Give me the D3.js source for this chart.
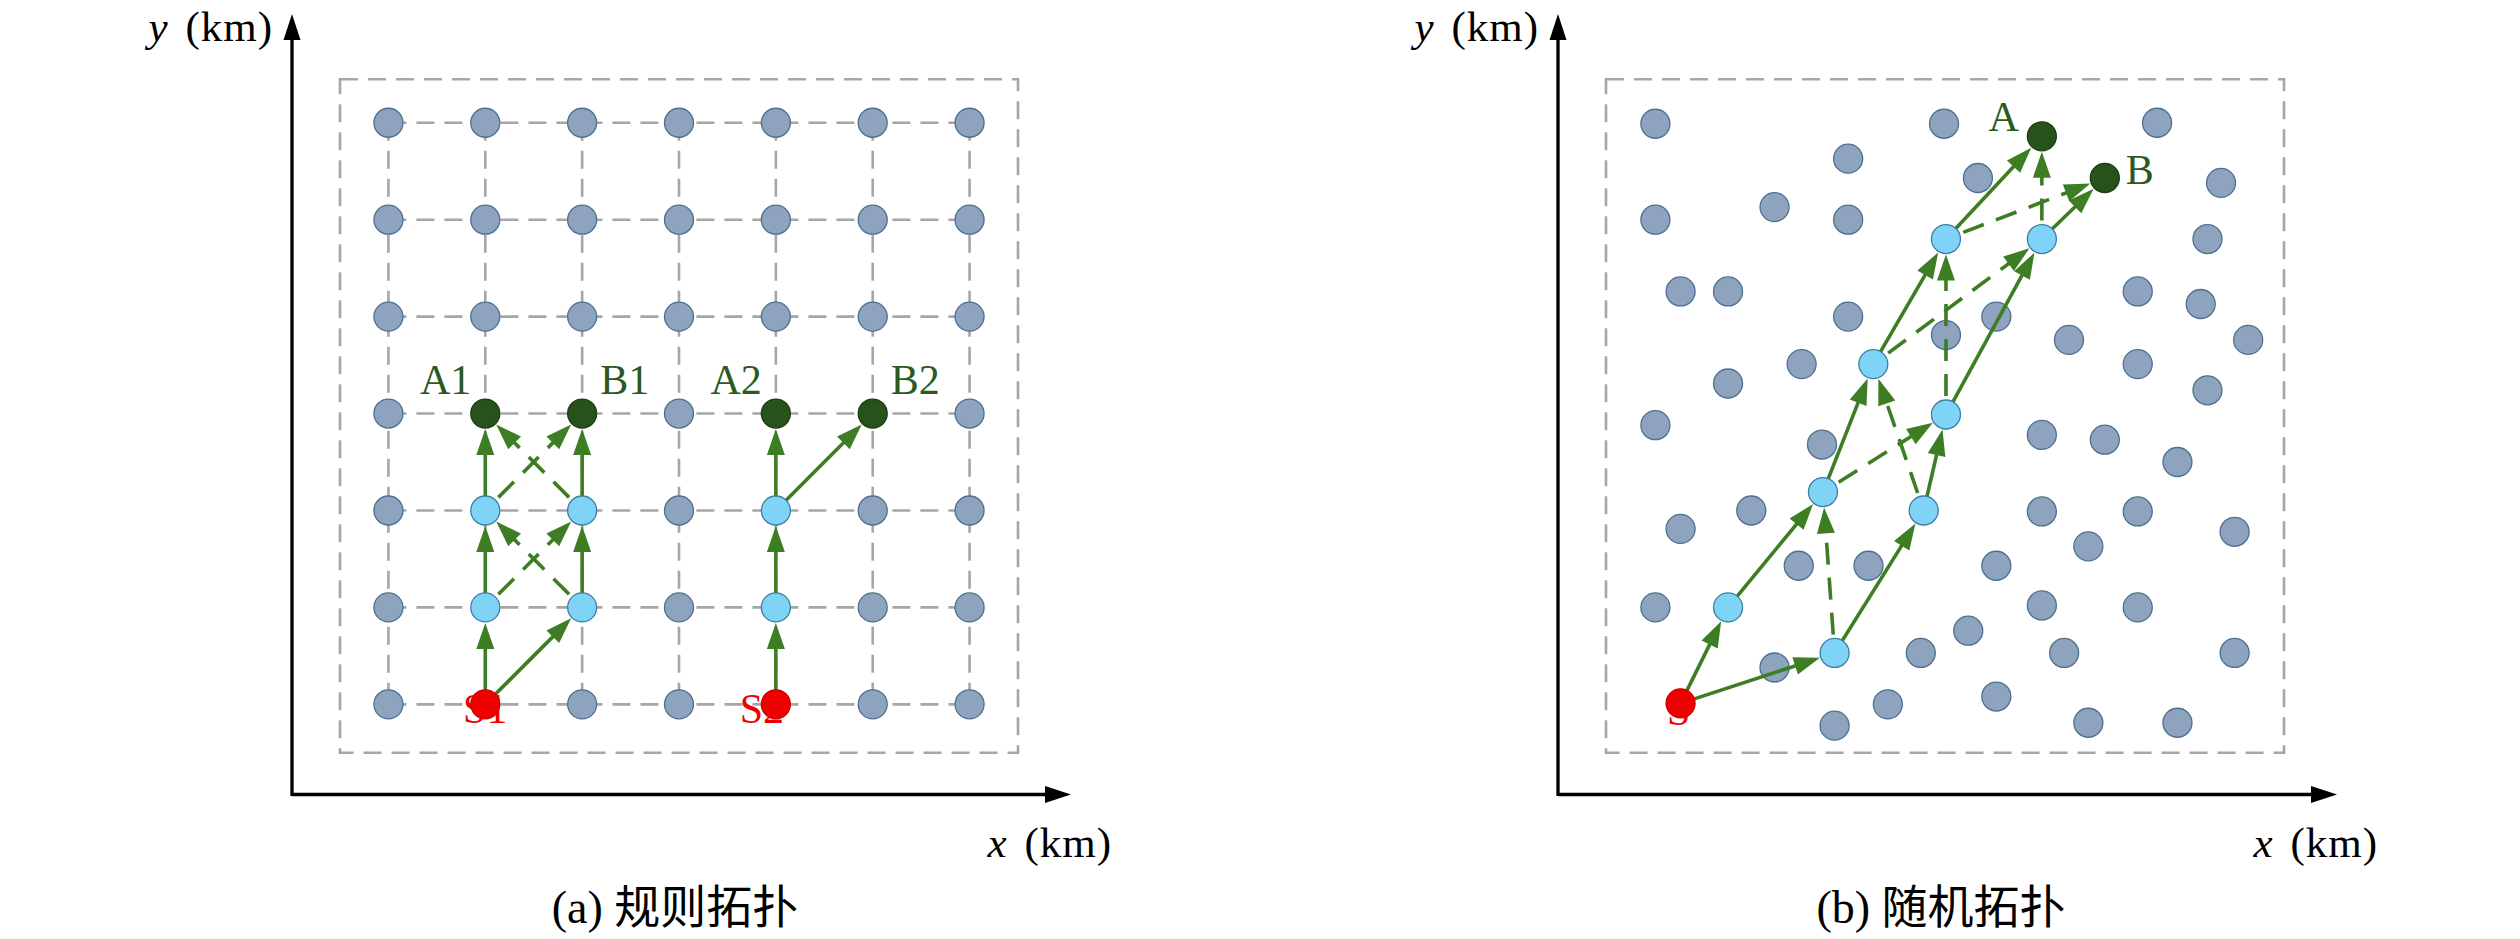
<!DOCTYPE html>
<html>
<head>
<meta charset="utf-8">
<script src="https://cdn.jsdelivr.net/npm/d3@7"></script>
<style>
  body { margin: 0; background: #fff; }
  text { font-family: "Liberation Serif", "Noto Sans CJK SC", serif; }
</style>
</head>
<body>
<script>
// ---- data (km) ----
// regular topology grid
const gridX = [0.5, 1.5, 2.5, 3.5, 4.5, 5.5, 6.5];
const gridY = [0.5, 1.5, 2.5, 3.5, 4.5, 5.5, 6.5];

// nodes on the paths of (a)
const pathNodesA = [
  {id: "S1", x: 1.5, y: 0.5, kind: "src"},
  {id: "a1", x: 1.5, y: 1.5, kind: "relay"},
  {id: "a2", x: 2.5, y: 1.5, kind: "relay"},
  {id: "a3", x: 1.5, y: 2.5, kind: "relay"},
  {id: "a4", x: 2.5, y: 2.5, kind: "relay"},
  {id: "A1", x: 1.5, y: 3.5, kind: "dst"},
  {id: "B1", x: 2.5, y: 3.5, kind: "dst"},
  {id: "S2", x: 4.5, y: 0.5, kind: "src"},
  {id: "b1", x: 4.5, y: 1.5, kind: "relay"},
  {id: "b2", x: 4.5, y: 2.5, kind: "relay"},
  {id: "A2", x: 4.5, y: 3.5, kind: "dst"},
  {id: "B2", x: 5.5, y: 3.5, kind: "dst"}
];
const linksA = [
  ["S1", "a1", "solid"], ["S1", "a2", "solid"],
  ["a1", "a3", "solid"], ["a2", "a4", "solid"],
  ["a3", "A1", "solid"], ["a4", "B1", "solid"],
  ["a1", "a4", "dash"], ["a2", "a3", "dash"],
  ["a3", "B1", "dash"], ["a4", "A1", "dash"],
  ["S2", "b1", "solid"], ["b1", "b2", "solid"],
  ["b2", "A2", "solid"], ["b2", "B2", "solid"]
];
const labelsA = ["A1", "B1", "A2", "B2", "S1", "S2"];

// random topology, background nodes
const randX = [0.51, 3.49, 2.50, 0.51, 1.74, 2.50, 0.77, 1.26, 2.50, 3.51,
               2.02, 1.26, 3.84, 5.69, 6.35, 6.21, 4.03, 5.49, 6.14, 4.78,
               6.63, 5.49, 6.21, 0.51, 2.23, 1.50, 0.77, 1.99, 2.71, 0.51,
               1.74, 3.25, 2.91, 2.36, 4.50, 5.15, 5.90, 4.50, 5.49, 6.49,
               4.98, 4.03, 4.50, 5.49, 3.74, 4.73, 6.49, 4.03, 4.98, 5.90];
const randY = [6.49, 6.49, 6.13, 5.50, 5.63, 5.50, 4.76, 4.76, 4.50, 4.31,
               4.01, 3.81, 5.93, 6.50, 5.88, 5.30, 4.50, 4.76, 4.63, 4.26,
               4.26, 4.01, 3.74, 3.38, 3.18, 2.50, 2.31, 1.93, 1.93, 1.50,
               0.88, 1.03, 0.50, 0.28, 3.28, 3.23, 3.00, 2.49, 2.49, 2.28,
               2.13, 1.93, 1.52, 1.50, 1.26, 1.03, 1.03, 0.58, 0.31, 0.31];

// nodes on the paths of (b)
const pathNodesB = [
  {id: "S", x: 0.77, y: 0.51, kind: "src"},
  {id: "p1", x: 1.26, y: 1.50, kind: "relay"},
  {id: "p2", x: 2.36, y: 1.03, kind: "relay"},
  {id: "p3", x: 2.24, y: 2.69, kind: "relay"},
  {id: "p4", x: 3.28, y: 2.50, kind: "relay"},
  {id: "p5", x: 2.76, y: 4.01, kind: "relay"},
  {id: "p6", x: 3.51, y: 3.49, kind: "relay"},
  {id: "p7", x: 3.51, y: 5.30, kind: "relay"},
  {id: "p8", x: 4.50, y: 5.30, kind: "relay"},
  {id: "A", x: 4.50, y: 6.36, kind: "dst"},
  {id: "B", x: 5.15, y: 5.93, kind: "dst"}
];
const linksB = [
  ["S", "p1", "solid"], ["S", "p2", "solid"],
  ["p1", "p3", "solid"], ["p3", "p5", "solid"], ["p5", "p7", "solid"], ["p7", "A", "solid"],
  ["p2", "p4", "solid"], ["p4", "p6", "solid"], ["p6", "p8", "solid"], ["p8", "B", "solid"],
  ["p2", "p3", "dash"], ["p3", "p6", "dash"], ["p4", "p5", "dash"],
  ["p5", "p8", "dash"], ["p6", "p7", "dash"], ["p7", "B", "dash"], ["p8", "A", "dash"]
];
const labelsB = ["A", "B", "S"];

const captions = ["(a) 规则拓扑", "(b) 随机拓扑"];
const axisNames = ["x", "y"];
const axisUnit = " (km)";

// ---- style ----
const R = 14.5;
const fillOf = {bg: "#8ea3bd", relay: "#7fd3f6", dst: "#27521a", src: "#ee0000"};
const strokeOf = {bg: "#4d7090", relay: "#3e7fa0", dst: "#1d3d14", src: "#cc0000"};
const green = "#3d7d23";
const gray = "#a6a6a6";

const svg = d3.select("body").append("svg")
  .attr("width", 2520)
  .attr("height", 939);

function panel(offset, caption, drawBody) {
  const x = d3.scaleLinear().domain([0, 7]).range([340 + offset, 1018 + offset]);
  const y = d3.scaleLinear().domain([0, 7]).range([752.8, 74.3]);
  const g = svg.append("g");

  // frame
  g.append("rect")
    .attr("x", x(0)).attr("y", 79.3)
    .attr("width", x(7) - x(0)).attr("height", y(0) - 79.3)
    .attr("fill", "none").attr("stroke", gray)
    .attr("stroke-width", 2.6).attr("stroke-dasharray", "18,10");

  // axes with arrow heads
  const ox = x(0) - 48, oy = 794.5, tx = x(7) + 53, ty = 14;
  g.append("line").attr("x1", ox).attr("y1", oy).attr("x2", tx - 24).attr("y2", oy)
    .attr("stroke", "#000").attr("stroke-width", 3.3);
  g.append("line").attr("x1", ox).attr("y1", oy + 1.6).attr("x2", ox).attr("y2", ty + 24)
    .attr("stroke", "#000").attr("stroke-width", 3.3);
  g.append("path").attr("d", `M${tx},${oy}L${tx - 26},${oy - 8.5}L${tx - 26},${oy + 8.5}Z`);
  g.append("path").attr("d", `M${ox},${ty}L${ox - 8.5},${ty + 26}L${ox + 8.5},${ty + 26}Z`);

  const xl = g.append("text").attr("x", tx + 41).attr("y", 857)
    .attr("text-anchor", "end").attr("font-size", 43)
    .attr("letter-spacing", 1).attr("word-spacing", 5);
  xl.append("tspan").attr("font-style", "italic").text(axisNames[0]);
  xl.append("tspan").text(axisUnit);
  const yl = g.append("text").attr("x", ox - 19).attr("y", 41)
    .attr("text-anchor", "end").attr("font-size", 43)
    .attr("letter-spacing", 1).attr("word-spacing", 5);
  yl.append("tspan").attr("font-style", "italic").text(axisNames[1]);
  yl.append("tspan").text(axisUnit);

  g.append("text").attr("x", (x(0) + x(7)) / 2 - 4).attr("y", 923)
    .attr("text-anchor", "middle").attr("font-size", 46)
    .text(caption);

  drawBody(g, x, y);
}

function drawLinks(g, links, pos, x, y) {
  const AL = 26, AW = 9;
  links.forEach(([s, t, style]) => {
    const p = [x(pos[s].x), y(pos[s].y)];
    const q = [x(pos[t].x), y(pos[t].y)];
    const len = Math.hypot(q[0] - p[0], q[1] - p[1]);
    const ux = (q[0] - p[0]) / len, uy = (q[1] - p[1]) / len;
    const tip = [q[0] - ux * (R + 1), q[1] - uy * (R + 1)];
    const base = [tip[0] - ux * AL, tip[1] - uy * AL];
    const start = style === "dash" ? [p[0] + ux * (R + 4), p[1] + uy * (R + 4)] : p;
    g.append("line")
      .attr("x1", start[0]).attr("y1", start[1])
      .attr("x2", base[0] + ux * 3).attr("y2", base[1] + uy * 3)
      .attr("stroke", green).attr("stroke-width", 3.6)
      .attr("stroke-dasharray", style === "dash" ? "22,13" : null);
    g.append("path")
      .attr("d", `M${tip[0]},${tip[1]}L${base[0] - uy * AW},${base[1] + ux * AW}L${base[0] + uy * AW},${base[1] - ux * AW}Z`)
      .attr("fill", green);
  });
}

function drawNodes(g, nodes, x, y) {
  g.selectAll(null).data(nodes).join("circle")
    .attr("cx", d => x(d.x)).attr("cy", d => y(d.y)).attr("r", R)
    .attr("fill", d => fillOf[d.kind]).attr("stroke", d => strokeOf[d.kind])
    .attr("stroke-width", 1.3);
}

function drawLabels(g, labels, pos, x, y, place) {
  labels.forEach(id => {
    const o = place[id[0]];
    g.append("text")
      .attr("x", x(pos[id].x) + o.dx + (id === "S2" ? -14 : 0))
      .attr("y", y(pos[id].y) + o.dy)
      .attr("text-anchor", o.anchor).attr("font-size", 42)
      .attr("fill", id[0] === "S" ? "#ee0000" : "#2c5a1e")
      .text(id);
  });
}

// (a) regular topology
panel(0, captions[0], (g, x, y) => {
  const grid = g.append("g").attr("stroke", gray).attr("stroke-width", 2.6)
    .attr("stroke-dasharray", "18,10");
  gridY.forEach(v => grid.append("line")
    .attr("x1", x(gridX[0])).attr("x2", x(gridX[gridX.length - 1]))
    .attr("y1", y(v)).attr("y2", y(v)));
  gridX.forEach(v => grid.append("line")
    .attr("y1", y(gridY[gridY.length - 1])).attr("y2", y(gridY[0]))
    .attr("x1", x(v)).attr("x2", x(v)));

  const pos = {};
  pathNodesA.forEach(d => pos[d.id] = d);
  const bg = [];
  gridX.forEach(gx => gridY.forEach(gy => {
    if (!pathNodesA.some(d => d.x === gx && d.y === gy)) bg.push({x: gx, y: gy, kind: "bg"});
  }));

  drawLinks(g, linksA, pos, x, y);
  const place = {
    A: {dx: -14, dy: -20, anchor: "end"},
    B: {dx: 18, dy: -20, anchor: "start"},
    S: {dx: 0, dy: 19, anchor: "middle"}
  };
  drawLabels(g, labelsA.filter(l => l[0] === "S"), pos, x, y, place);
  drawNodes(g, bg.concat(pathNodesA), x, y);
  drawLabels(g, labelsA.filter(l => l[0] !== "S"), pos, x, y, place);
});

// (b) random topology
panel(1266, captions[1], (g, x, y) => {
  const pos = {};
  pathNodesB.forEach(d => pos[d.id] = d);
  const bg = randX.map((v, i) => ({x: v, y: randY[i], kind: "bg"}));

  drawNodes(g, bg, x, y);
  drawLinks(g, linksB, pos, x, y);
  const place = {
    A: {dx: -23, dy: -5, anchor: "end"},
    B: {dx: 21, dy: 6, anchor: "start"},
    S: {dx: -2, dy: 22, anchor: "middle"}
  };
  drawLabels(g, labelsB.filter(l => l[0] === "S"), pos, x, y, place);
  drawNodes(g, pathNodesB, x, y);
  drawLabels(g, labelsB.filter(l => l[0] !== "S"), pos, x, y, place);
});
</script>
</body>
</html>
